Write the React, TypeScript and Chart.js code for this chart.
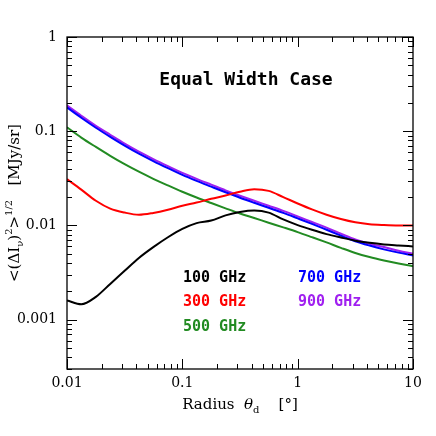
import React, { useEffect, useRef } from 'react';
import { Chart, registerables } from 'chart.js';

Chart.register(...registerables);

// ---- data ----
const radius = [0.01, 0.0133, 0.0178, 0.0237, 0.0316, 0.042, 0.056, 0.075, 0.1, 0.133, 0.178, 0.237, 0.316, 0.42, 0.56, 0.75, 1, 1.33, 1.78, 2.37, 3.16, 4.2, 5.6, 7.5, 10];

const ghz100 = [0.0016, 0.00146, 0.00175, 0.0024, 0.0033, 0.00452, 0.00589, 0.0075, 0.0092, 0.0106, 0.01127, 0.0128, 0.0139, 0.0144, 0.0137, 0.0116, 0.0101, 0.009, 0.0081, 0.00745, 0.0069, 0.00655, 0.0063, 0.00614, 0.006];
const ghz300 = [0.031, 0.024, 0.0183, 0.0151, 0.0137, 0.013, 0.0136, 0.0147, 0.0162, 0.0175, 0.0192, 0.0208, 0.0228, 0.0242, 0.0233, 0.02, 0.0171, 0.0148, 0.013, 0.0117, 0.0108, 0.0103, 0.0101, 0.01, 0.01];
const ghz500 = [0.11, 0.0857, 0.0681, 0.0548, 0.0447, 0.0372, 0.0313, 0.0266, 0.0228, 0.0198, 0.0173, 0.0152, 0.0134, 0.012, 0.0107, 0.00955, 0.00851, 0.00752, 0.00661, 0.00579, 0.00511, 0.00463, 0.00426, 0.00395, 0.0037];
const ghz700 = [0.179, 0.139, 0.109, 0.0873, 0.0705, 0.0579, 0.0483, 0.0406, 0.0344, 0.0297, 0.0258, 0.0225, 0.0197, 0.0174, 0.0154, 0.0136, 0.0119, 0.0104, 0.009, 0.0078, 0.0068, 0.00612, 0.00558, 0.00515, 0.0048];
const ghz900 = [0.188, 0.146, 0.114, 0.0917, 0.074, 0.0608, 0.0507, 0.0426, 0.0361, 0.0312, 0.0271, 0.0236, 0.0207, 0.0183, 0.0162, 0.0143, 0.0125, 0.0109, 0.0095, 0.0082, 0.0071, 0.0064, 0.0059, 0.0054, 0.005];

const seriesLabels = ['100 GHz', '300 GHz', '500 GHz', '700 GHz', '900 GHz'];
const seriesColors = ['#000000', '#ff0000', '#228b22', '#0000ff', '#a020f0'];
const seriesValues = [ghz100, ghz300, ghz500, ghz700, ghz900];

const xTickLabels = ['0.01', '0.1', '1', '10'];
const yTickLabels = ['0.001', '0.01', '0.1', '1'];

const chartTitle = 'Equal Width Case';

function decadeLabel(list: string[], v: number): string {
  for (const s of list) {
    const n = Number(s);
    if (Math.abs(v - n) / n < 1e-6) return s;
  }
  return '';
}

// ---- plugins ----
const frameTicks = {
  id: 'frameTicks',
  afterDatasetsDraw(chart: any) {
    const { ctx, chartArea: a, scales } = chart;
    ctx.save();
    ctx.strokeStyle = '#000';
    ctx.lineWidth = 1.3;
    ctx.strokeRect(a.left, a.top, a.right - a.left, a.bottom - a.top);
    ctx.lineWidth = 1;
    const each = (scale: any, fn: (p: number, major: boolean) => void) => {
      const lo = Math.floor(Math.log10(scale.min));
      const hi = Math.ceil(Math.log10(scale.max));
      for (let n = lo; n <= hi; n++) {
        for (let k = 1; k <= 9; k++) {
          const v = k * Math.pow(10, n);
          if (v < scale.min * 0.9999 || v > scale.max * 1.0001) continue;
          fn(Math.round(scale.getPixelForValue(v)) + 0.5, k === 1);
        }
      }
    };
    ctx.beginPath();
    each(scales.x, (p, major) => {
      const len = major ? 10 : 5;
      ctx.moveTo(p, a.bottom);
      ctx.lineTo(p, a.bottom - len);
      ctx.moveTo(p, a.top);
      ctx.lineTo(p, a.top + len);
    });
    each(scales.y, (p, major) => {
      const len = major ? 10 : 5;
      ctx.moveTo(a.left, p);
      ctx.lineTo(a.left + len, p);
      ctx.moveTo(a.right, p);
      ctx.lineTo(a.right - len, p);
    });
    ctx.stroke();
    ctx.restore();
  },
};

const annotations = {
  id: 'annotations',
  afterDraw(chart: any) {
    const { ctx, chartArea: a } = chart;
    ctx.save();
    ctx.fillStyle = '#000';
    // title inside plot
    ctx.font = 'bold 18px "DejaVu Sans Mono"';
    ctx.textAlign = 'center';
    ctx.textBaseline = 'middle';
    ctx.fillText(chartTitle, 246, 80);

    // legend text
    ctx.font = 'bold 15px "DejaVu Sans Mono"';
    ctx.textAlign = 'left';
    const pos = [
      [183, 278], [183, 302], [183, 327], [298, 278], [298, 302],
    ];
    chart.data.datasets.forEach((ds: any, i: number) => {
      ctx.fillStyle = ds.borderColor;
      ctx.fillText(ds.label, pos[i][0], pos[i][1]);
    });

    // x axis title
    ctx.fillStyle = '#000';
    const big = '15px "DejaVu Serif"';
    const small = '10px "DejaVu Serif"';
    const cx = (a.left + a.right) / 2;
    const xParts: [string, string, number][] = [
      ['Radius  ', big, 0],
      ['\u03b8', 'italic 15px "DejaVu Serif"', 0],
      ['d', small, 4],
      ['    [\u00b0]', big, 0],
    ];
    const drawParts = (parts: [string, string, number][], x0: number, y0: number) => {
      let total = 0;
      for (const [t, f] of parts) { ctx.font = f; total += ctx.measureText(t).width; }
      let x = x0 - total / 2;
      ctx.textAlign = 'left';
      ctx.textBaseline = 'alphabetic';
      for (const [t, f, dy] of parts) {
        ctx.font = f;
        ctx.fillText(t, x, y0 + dy);
        x += ctx.measureText(t).width;
      }
    };
    drawParts(xParts, cx, 409);

    // y axis title (rotated)
    const cy = (a.top + a.bottom) / 2;
    ctx.translate(19, cy);
    ctx.rotate(-Math.PI / 2);
    const yParts: [string, string, number][] = [
      ['<(\u0394I', big, 0],
      ['\u03bd', small, 4],
      [')', big, 0],
      ['2', small, -7],
      ['>', big, 0],
      ['1/2', small, -7],
      ['   [MJy/sr]', big, 0],
    ];
    drawParts(yParts, 0, 0);
    ctx.restore();
  },
};

export default function App() {
  const ref = useRef<HTMLCanvasElement | null>(null);

  useEffect(() => {
    if (!ref.current) return;
    const datasets = seriesLabels.map((label, i) => ({
      label,
      data: radius.map((r, j) => ({ x: r, y: seriesValues[i][j] })),
      borderColor: seriesColors[i],
      backgroundColor: seriesColors[i],
      borderWidth: 2,
      pointRadius: 0,
      fill: false,
      cubicInterpolationMode: 'monotone' as const,
    }));
    const tickFont = { family: '"DejaVu Serif"', size: 14 };
    const chart = new Chart(ref.current, {
      type: 'line',
      data: { datasets },
      options: {
        animation: false,
        responsive: false,
        maintainAspectRatio: false,
        devicePixelRatio: 1,
        layout: { padding: { left: 0, right: 23, top: 37, bottom: 0 } },
        plugins: {
          legend: { display: false },
          tooltip: { enabled: false },
          title: { display: false },
        },
        scales: {
          x: {
            type: 'logarithmic',
            min: 0.01,
            max: 10,
            grid: { display: false, drawTicks: false },
            border: { display: false },
            ticks: {
              autoSkip: false,
              maxRotation: 0,
              padding: 6,
              color: '#000',
              font: tickFont,
              callback: (v: any) => decadeLabel(xTickLabels, Number(v)),
            },
            afterFit: (s: any) => { s.height = 67; },
          },
          y: {
            type: 'logarithmic',
            min: 0.00032,
            max: 1,
            grid: { display: false, drawTicks: false },
            border: { display: false },
            ticks: {
              autoSkip: false,
              padding: 10,
              color: '#000',
              font: tickFont,
              callback: (v: any) => decadeLabel(yTickLabels, Number(v)),
            },
            afterFit: (s: any) => { s.width = 67; },
          },
        },
      },
      plugins: [frameTicks, annotations],
    });
    return () => chart.destroy();
  }, []);

  return (
    <div style={{ position: 'fixed', left: 0, top: 0, width: 436, height: 436, background: '#fff' }}>
      <canvas ref={ref} width={436} height={436} style={{ width: 436, height: 436, display: 'block' }} />
    </div>
  );
}
